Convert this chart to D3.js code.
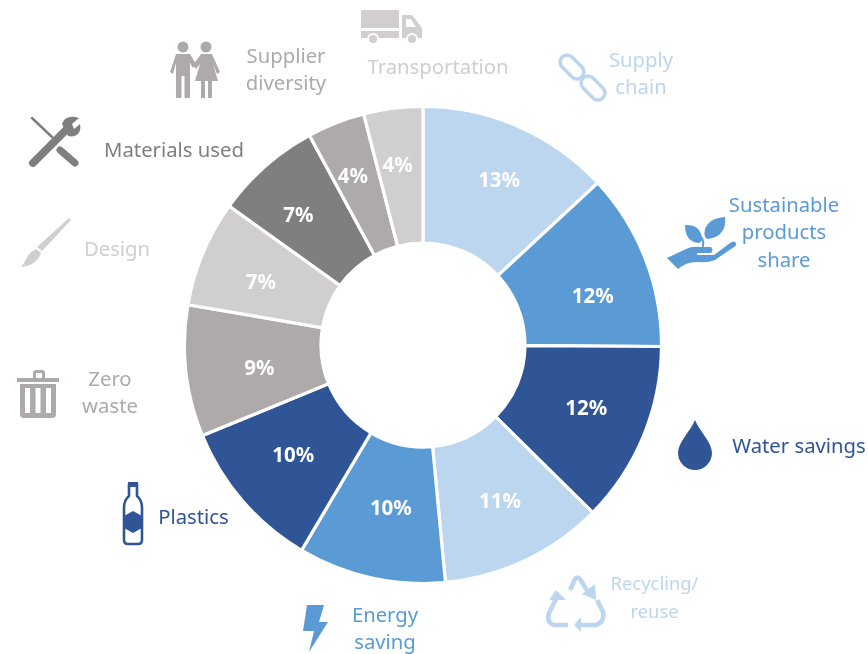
<!DOCTYPE html>
<html><head><meta charset="utf-8">
<script src="https://cdn.jsdelivr.net/npm/d3@7/dist/d3.min.js"></script>
<style>html,body{margin:0;padding:0;background:#fff;overflow:hidden}
svg{display:block;filter:blur(.6px)}
text{font-family:"Noto Sans",sans-serif}</style></head><body>
<svg id="c" width="868" height="654"></svg>
<script>
const categories=["Supply chain","Sustainable products share","Water savings","Recycling/ reuse","Energy saving","Plastics","Zero waste","Design","Materials used","Supplier diversity","Transportation"];
const values=[13.1,12,12.3,11.1,10,10.3,8.9,7.2,7.2,3.9,4];
const colors=["#BBD6EE","#5B9BD5","#2F5597","#BBD6EE","#5B9BD5","#2F5597","#AEAAAA","#D0CECE","#7F7F7F","#AEAAAA","#D0CECE"];
const labelNudge=[[8,-9],[11,12],[6,-3],[4,2],[5,-4],[-1,-2],[5.5,4],[-5,2],[-12,-3],[-8,-11],[-4,-11]];
const categoryLines=[["Supply","chain"],["Sustainable","products","share"],["Water savings"],["Recycling/","reuse"],["Energy","saving"],["Plastics"],["Zero","waste"],["Design"],["Materials used"],["Supplier","diversity"],["Transportation"]];
const categoryAnchor=[[641,60],[784,205],[799,446],[654.5,584],[385,615],[193.5,517],[110,379],[117,249],[174,150],[286,56],[438,67]];
const categorySize=[20.3,20.3,20.3,18.4,20.3,20.3,20.3,20.3,20.3,20.3,20.3];

const svg=d3.select("#c");
const cx=423,cy=345,R=238.5,r=102;
const pie=d3.pie().value(d=>d).sort(null);
const arc=d3.arc().innerRadius(r).outerRadius(R);
const g=svg.append("g").attr("transform",`translate(${cx},${cy})`);
const arcs=pie(values);
g.selectAll("path").data(arcs).join("path").attr("d",arc)
 .attr("fill",(d,i)=>colors[i]).attr("stroke","#fff").attr("stroke-width",3.2);
g.selectAll("text").data(arcs).join("text")
 .attr("transform",(d,i)=>{const c=arc.centroid(d);return `translate(${c[0]+labelNudge[i][0]},${c[1]+labelNudge[i][1]})`})
 .attr("text-anchor","middle").attr("dy","0.36em").attr("fill","#fff")
 .attr("font-size",20.5).attr("font-weight",700).text(d=>Math.round(d.value)+"%");

const lineH=27.2;
const lab=svg.append("g");
categoryLines.forEach((lines,i)=>{
 lines.forEach((t,j)=>lab.append("text").attr("x",categoryAnchor[i][0]).attr("y",categoryAnchor[i][1]+j*lineH)
  .attr("dy","0.35em").attr("text-anchor","middle").attr("font-size",categorySize[i]).attr("fill",colors[i]).text(t));
});

// decorative pictograms
const ic=svg.append("g");
const P=(d,f,extra={})=>{const p=ic.append("path").attr("d",d).attr("fill",f);Object.entries(extra).forEach(([k,v])=>p.attr(k,v));return p};
const S=(d,c,w,cap="round")=>ic.append("path").attr("d",d).attr("fill","none").attr("stroke",c).attr("stroke-width",w).attr("stroke-linecap",cap).attr("stroke-linejoin","round");
// truck
P("M361 10H399V28H361Z M361 31H399V38H361Z M402 15H412L422 28V38H402Z","#D0CECE");
P("M406 19H411L416 27H406Z","#fff");
ic.selectAll(null).data([373,412]).join("circle").attr("cx",d=>d).attr("cy",39).attr("r",5).attr("fill","#D0CECE").attr("stroke","#fff").attr("stroke-width",2);
// people
const pc="#AEAAAA";
ic.selectAll(null).data([183,206]).join("circle").attr("cx",d=>d).attr("cy",47).attr("r",5.5).attr("fill",pc);
P("M176 54H190L196 64L193 68L190 63V98H184.5V76H181.5V98H176V63L173 74L170 72Z",pc);
P("M201 54H212L220 72L217 74L213 64L218 81H212V98H208V81H205V98H201V81H195L200 64L196 69L193 65Z",pc);
// tools
const tc="#7F7F7F";
S("M33 163L68 128",tc,8);
P("M62 124C64 117 72 115 79 118L72 124L74 129L80 124C82 133 76 138 68 136Z",tc);
S("M32 118L52 137",tc,2.5);
S("M60 150L75 163",tc,7);
// brush
P("M69 218L71 220L42 251L37 247Z","#D0CECE");
P("M36 249L41 253C38 262 31 266 21 267C26 262 26 254 36 249Z","#D0CECE");
// trash
P("M17 378H33V373Q33 370 36 370H42Q45 370 45 373V378H59V382H17Z M36 373V378H42V373Z","#AEAAAA",{"fill-rule":"evenodd"});
P("M20 384H56V414Q56 418 52 418H24Q20 418 20 414Z M25 388V413H30V388Z M35.5 388V413H40.5V388Z M46 388V413H51V388Z","#AEAAAA",{"fill-rule":"evenodd"});
// bottle
S("M129 484H137V496Q142 500 142 508V540Q142 544 138 544H128Q124 544 124 540V508Q124 500 129 496Z","#2F5597",2.6);
P("M124 516L133 511L142 516V528L133 533L124 528Z","#2F5597");
P("M128 482H138V487H128Z","#2F5597");
// bolt
P("M307 605H324L319 622H328L309 652L314 631H303Z","#5B9BD5");
// recycle
const rc="#BBD6EE";
S("M570 590L575 579Q577 576 580 579L588 592",rc,4.5,"butt");
P("M582 594L595 584L596 600Z",rc);
S("M597 600L603 612Q605 622 596 625H581",rc,4.5,"butt");
P("M581 617L574 625L581 632Z",rc);
S("M568 625H554Q546 622 549 613L556 599",rc,4.5,"butt");
P("M549 600L566 600L556 590Z",rc);
// drop
P("M695 420C700 432 712 442 712 453A17 17 0 0 1 678 453C678 442 690 432 695 420Z","#2F5597");
// hand + leaves
const hc="#5B9BD5";
P("M667 258L686 249Q692 246 700 247H711Q714 250 711 253H697V255H714L730 243Q734 240 736 243Q737 245 734 247L715 260Q708 263 697 262Q686 262 678 269Z",hc);
P("M685 225Q700 224 702 238Q702 243 698 243Q685 241 685 225Z",hc);
P("M725 217Q727 236 708 239Q703 238 705 229Q709 218 725 217Z",hc);
S("M702 238Q704 242 703 246",hc,2);
// chain
const cc="#BBD6EE";
ic.selectAll(null).data([[572,67],[593,88]]).join("rect").attr("x",-14).attr("y",-7).attr("width",28).attr("height",14).attr("rx",7)
 .attr("transform",d=>`translate(${d[0]},${d[1]}) rotate(45)`).attr("fill","none").attr("stroke",cc).attr("stroke-width",3.5);
</script></body></html>
